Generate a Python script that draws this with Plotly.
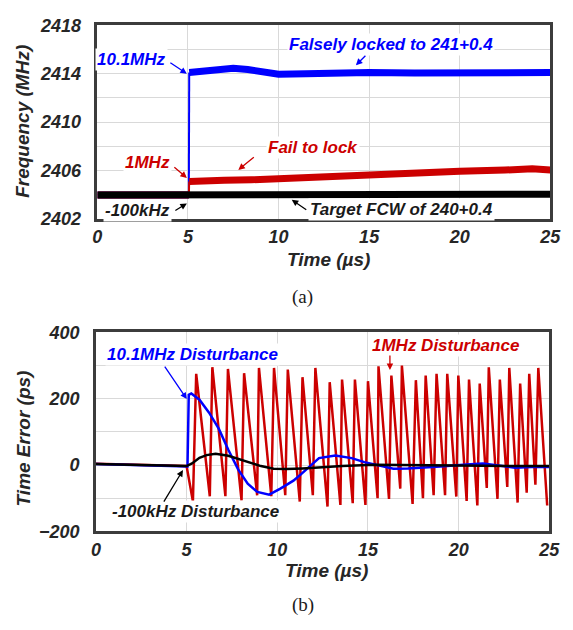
import plotly.graph_objects as go

# ---------------- (a) frequency vs time ----------------
freq_t_blue = [0, 2.5, 5.05, 5.07, 5.5, 6.5, 7.5, 8.3, 9.0, 10.0, 11.5, 13.0, 15.0, 17.5, 20.0, 22.5, 25.0]
freq_blue = [2404.0, 2404.0, 2404.0, 2414.1, 2414.15, 2414.3, 2414.45, 2414.35, 2414.2, 2413.95, 2414.0, 2414.05, 2414.1, 2414.05, 2414.1, 2414.1, 2414.1]

freq_t_red = [0, 2.5, 5.05, 5.07, 5.5, 7.0, 8.5, 10.0, 12.0, 15.0, 17.5, 20.0, 22.5, 24.0, 25.0]
freq_red = [2404.0, 2404.0, 2404.0, 2405.1, 2405.15, 2405.2, 2405.25, 2405.35, 2405.5, 2405.64, 2405.8, 2405.95, 2406.05, 2406.15, 2406.05]

freq_t_black = [0, 5.0, 10.0, 15.0, 20.0, 25.0]
freq_black = [2404.0, 2404.0, 2404.05, 2404.05, 2404.05, 2404.05]

# ---------------- (b) time error vs time ----------------
te_t_red = [0, 1.5, 3.0, 4.5, 5.0,
            5.35, 5.53, 6.28, 6.42, 7.14, 7.28, 8.03, 8.17, 8.89, 8.99,
            9.67, 9.82, 10.44, 10.58, 11.24, 11.39, 11.96, 12.10, 12.77, 12.89,
            13.48, 13.57, 14.16, 14.28, 14.86, 15.0, 15.53, 15.58, 16.16, 16.29,
            16.78, 16.87, 17.46, 17.64, 18.03, 18.18, 18.62, 18.78, 19.25, 19.37,
            19.87, 19.98, 20.44, 20.57, 21.03, 21.16, 21.55, 21.66, 22.14, 22.27,
            22.68, 22.79, 23.25, 23.39, 23.75, 23.89, 24.23, 24.39, 24.88]
te_red = [4, 2, -1, -3, -3,
          -110, 275, -94, 295, -94, 290, -107, 277, -91, 293,
          -94, 293, -91, 288, -110, 265, -91, 293, -125, 250,
          -120, 258, -115, 258, -120, 253, -100, 298, -102, 270,
          -71, 300, -117, 256, -100, 270, -91, 275, -91, 275,
          -95, 270, -108, 258, -122, 246, -69, 295, -102, 258,
          -66, 293, -113, 246, -83, 275, -59, 293, -122]

te_t_blue = [0, 1.5, 3.0, 4.5, 5.05, 5.12, 5.26, 5.71, 6.24, 6.78, 7.3, 7.84, 8.37, 8.9,
             9.55, 10.17, 10.89, 11.3, 11.6, 12.3, 13.2, 14.1, 14.8, 15.7, 16.4, 17.2,
             17.9, 19.0, 20.44, 21.34, 22.4, 23.1, 24.0, 25.0]
te_blue = [3, 1, -1, -3, -4, 212, 216, 197, 158, 109, 46, -13, -56, -81,
           -89, -71, -47, -28, -13, 21, 29, 21, 9, -3, -11, -10,
           -8, -4, 2, 5, -3, -8, -6, -6]

te_t_black = [0, 1.5, 3.0, 4.5, 5.0, 5.3, 5.71, 6.1, 6.6, 7.3, 8.2, 9.1, 9.8, 10.5,
              11.4, 12.5, 13.57, 15.35, 17.0, 19.0, 21.0, 23.0, 25.0]
te_black = [3, 1, -1, -3, -3, 5, 22, 30, 34, 28, 13, -3, -11, -12,
            -10, -6, -3, 1, 0, -2, -2, -3, -3]

x_ticks = [0, 5, 10, 15, 20, 25]

W, H = 573, 630
BLUE, RED, BLACK = "#0000ff", "#cc0000", "#000000"
FONT = "Liberation Sans"
GRID = "#d9d9d9"
FRAME = "#3c3c3c"


def px(x):
    return x / W


def py(y):
    return 1 - y / H


def split_jump(t, v, i):
    """Thick noisy band without the step, plus the thin step segment."""
    band_t = t[:i + 1] + [None] + t[i + 1:]
    band_v = v[:i + 1] + [None] + v[i + 1:]
    return (band_t, band_v), (t[i:i + 2], v[i:i + 2])


fig = go.Figure()

# top panel: noisy frequency tracks drawn as thick bands
(bt, bv), (st, sv) = split_jump(freq_t_blue, freq_blue, 2)
fig.add_trace(go.Scatter(x=bt, y=bv, mode="lines", line=dict(color=BLUE, width=7),
                         xaxis="x", yaxis="y", showlegend=False))
fig.add_trace(go.Scatter(x=st, y=sv, mode="lines", line=dict(color=BLUE, width=2),
                         xaxis="x", yaxis="y", showlegend=False))
(rt, rv), (rst, rsv) = split_jump(freq_t_red, freq_red, 2)
fig.add_trace(go.Scatter(x=rt, y=rv, mode="lines", line=dict(color=RED, width=7),
                         xaxis="x", yaxis="y", showlegend=False))
fig.add_trace(go.Scatter(x=rst, y=rsv, mode="lines", line=dict(color=RED, width=2),
                         xaxis="x", yaxis="y", showlegend=False))
fig.add_trace(go.Scatter(x=freq_t_black, y=freq_black, mode="lines",
                         line=dict(color=BLACK, width=7),
                         xaxis="x", yaxis="y", showlegend=False))

# bottom panel: time error
fig.add_trace(go.Scatter(x=te_t_red, y=te_red, mode="lines", line=dict(color=RED, width=2.5),
                         xaxis="x2", yaxis="y2", showlegend=False))
fig.add_trace(go.Scatter(x=te_t_blue, y=te_blue, mode="lines", line=dict(color=BLUE, width=2.5),
                         xaxis="x2", yaxis="y2", showlegend=False))
fig.add_trace(go.Scatter(x=te_t_black, y=te_black, mode="lines", line=dict(color=BLACK, width=2.5),
                         xaxis="x2", yaxis="y2", showlegend=False))

tickfont = dict(family=FONT, size=18, color="#262626", weight="bold", style="italic")
axis_common = dict(showline=True, mirror=True, linecolor=FRAME, linewidth=2.5,
                   showgrid=True, gridcolor=GRID, gridwidth=1, zeroline=False,
                   ticks="", tickfont=tickfont)

fig.update_layout(
    width=W, height=H, margin=dict(l=0, r=0, t=0, b=0),
    paper_bgcolor="white", plot_bgcolor="white",
    xaxis=dict(domain=[px(95), px(561)], range=[0, 25], tickvals=x_ticks,
               anchor="y", ticklabelstandoff=0, **axis_common),
    yaxis=dict(domain=[py(216), py(15.7)], range=[2402, 2418], tick0=2402, dtick=4,
               minor=dict(dtick=2, tick0=2402, showgrid=True, gridcolor=GRID, gridwidth=1),
               anchor="x", ticklabelstandoff=10, **axis_common),
    xaxis2=dict(domain=[px(93.5), px(560)], range=[0, 25], tickvals=x_ticks,
                anchor="y2", ticklabelstandoff=0, **axis_common),
    yaxis2=dict(domain=[py(538.5), py(333)], range=[-200, 400], tick0=-200, dtick=200,
                minor=dict(dtick=100, tick0=-200, showgrid=True, gridcolor=GRID, gridwidth=1),
                anchor="x2", ticklabelstandoff=10, **axis_common),
)

ann_font = dict(family=FONT, size=17, weight="bold", style="italic")
title_font = dict(family=FONT, size=19, color="#262626", weight="bold", style="italic")


def label(text, x, y, color, xanchor="left", bg=True):
    fig.add_annotation(text=text, x=px(x), y=py(y), xref="paper", yref="paper",
                       xanchor=xanchor, yanchor="middle", showarrow=False,
                       font=dict(color=color, **ann_font),
                       bgcolor="white" if bg else None, borderpad=1)


def arrow(x, y, xr, yr, ax, ay, color):
    fig.add_annotation(text="", x=x, y=y, xref=xr, yref=yr, ax=ax, ay=ay,
                       showarrow=True, arrowhead=2, arrowsize=1, arrowwidth=1.3,
                       arrowcolor=color, standoff=0)


# panel (a) labels
label("10.1MHz", 168, 51, BLUE, xanchor="right")
arrow(4.94, 2414.0, "x", "y", -18, -12, BLUE)
label("Falsely locked to 241+0.4", 290, 36, BLUE)
arrow(14.27, 2414.7, "x", "y", 11, -11, BLUE)
label("1MHz", 172, 157, RED, xanchor="right")
arrow(4.94, 2405.4, "x", "y", -14, -12, RED)
label("Fail to lock", 268, 142, RED)
arrow(7.78, 2406.06, "x", "y", 17, -14, RED)
label("-100kHz", 172, 207, "#1a1a1a", xanchor="right")
arrow(4.94, 2403.3, "x", "y", -13, 8, BLACK)
label("Target FCW of 240+0.4", 312, 206, "#1a1a1a")
arrow(10.73, 2403.6, "x", "y", 16, 11, BLACK)

# panel (b) labels
label("10.1MHz Disturbance", 103, 356, BLUE)
arrow(5.01, 199, "x2", "y2", -23, -34, BLUE)
label("1MHz Disturbance", 375, 347, RED)
arrow(16.21, 287, "x2", "y2", 0, -16, RED)
label("-100kHz Disturbance", 108, 518, "#1a1a1a")
arrow(4.8, -15, "x2", "y2", -20, 33, BLACK)

# axis titles
for text, x, y, rot in [("Frequency (MHz)", 18, 115, -90), ("Time Error (ps)", 20, 442, -90),
                        ("Time (µs)", 333, 258, 0), ("Time (µs)", 331, 579, 0)]:
    fig.add_annotation(text=text, x=px(x), y=py(y), xref="paper", yref="paper",
                       xanchor="center", yanchor="middle", showarrow=False,
                       textangle=rot, font=title_font)

for text, x, y in [("(a)", 306, 296), ("(b)", 307, 615)]:
    fig.add_annotation(text=text, x=px(x), y=py(y), xref="paper", yref="paper",
                       xanchor="center", yanchor="middle", showarrow=False,
                       font=dict(family="Liberation Serif", size=19, color="#1a1a1a"))

fig.write_html("out.html")
